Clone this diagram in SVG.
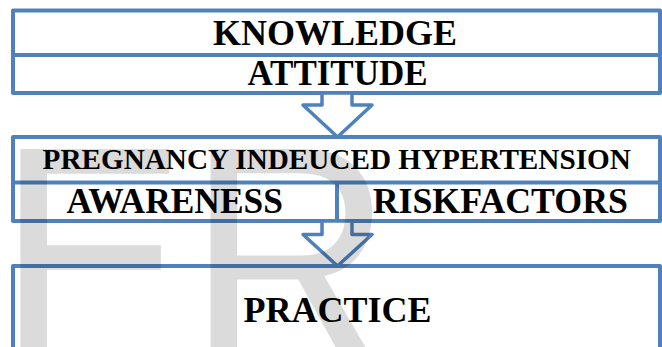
<svg xmlns="http://www.w3.org/2000/svg" width="662" height="347" viewBox="0 0 662 347">
  <style>
    .box { fill: none; stroke: #4f81bd; stroke-width: 4; stroke-linejoin: round; }
    .rule { stroke: #4f81bd; stroke-width: 4; }
    .arrow { fill: #ffffff; stroke: #4f81bd; stroke-width: 3.5; stroke-linejoin: round; }
    .lbl { font-family: "Liberation Serif", "Times New Roman", serif; font-weight: bold; fill: #000000; text-anchor: middle; }
    .mark { font-family: "Liberation Sans", Arial, sans-serif; fill: #000000; fill-opacity: 0.14; }
  </style>
  <rect width="662" height="347" fill="#ffffff"/>

  <!-- knowledge / attitude block -->
  <g id="node-knowledge-attitude">
    <rect class="box" x="13" y="10.5" width="647" height="82.5"/>
    <line class="rule" x1="13" y1="55" x2="660" y2="55"/>
    <text class="lbl" x="335" y="45" font-size="36">KNOWLEDGE</text>
    <text class="lbl" x="337.5" y="85" font-size="35">ATTITUDE</text>
  </g>

  <!-- pregnancy induced hypertension block -->
  <g id="node-pih">
    <rect class="box" x="13" y="137" width="647" height="84"/>
    <line class="rule" x1="13" y1="182.5" x2="660" y2="182.5"/>
    <line class="rule" x1="337" y1="182.5" x2="337" y2="221"/>
    <text class="lbl" x="336.7" y="168.7" font-size="29.2">PREGNANCY INDEUCED HYPERTENSION</text>
    <text class="lbl" x="174.7" y="213" font-size="35.4">AWARENESS</text>
    <text class="lbl" x="500.3" y="213" font-size="35.8">RISKFACTORS</text>
  </g>

  <!-- practice block -->
  <g id="node-practice">
    <rect class="box" x="13" y="266" width="647" height="100"/>
    <text class="lbl" x="337.5" y="322" font-size="36">PRACTICE</text>
  </g>

  <!-- block arrows between the levels -->
  <g id="connectors">
    <path class="arrow" d="M322,93 L322,105 L303,105 L337.5,137 L372,105 L352,105 L352,93 Z"/>
    <path class="arrow" d="M322,221 L322,234.5 L303,234.5 L337.5,266 L372,234.5 L352,234.5 L352,221 Z"/>
  </g>

  <!-- faint background lettering -->
  <g id="watermark" transform="scale(0.88,1)">
    <text class="mark" x="-3.4" y="372" font-size="324">ER</text>
  </g>
</svg>
